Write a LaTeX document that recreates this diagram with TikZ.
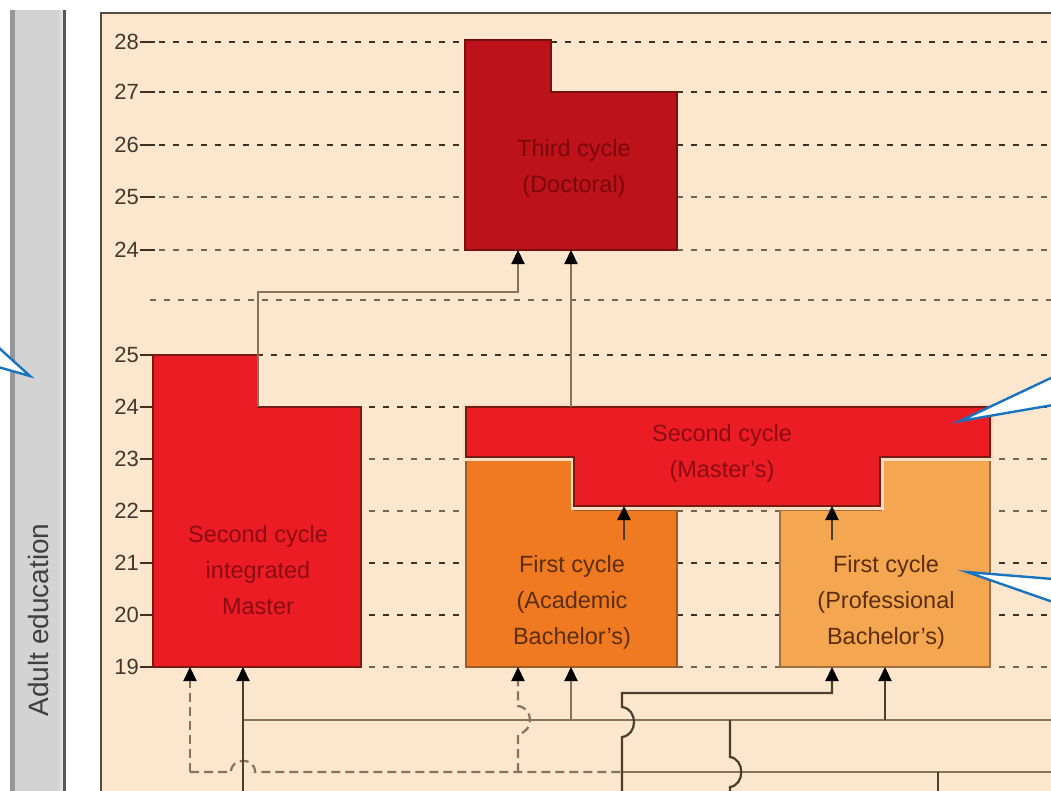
\documentclass[tikz,border=0pt]{standalone}
\usepackage{fontspec}
\setmainfont{Liberation Sans}
\usetikzlibrary{arrows.meta}
\definecolor{panel}{RGB}{252,231,206}
\definecolor{panelborder}{RGB}{85,75,65}
\definecolor{barfill}{RGB}{211,211,211}
\definecolor{bardark}{RGB}{150,150,150}
\definecolor{gridc}{RGB}{62,48,36}
\definecolor{gridl}{RGB}{115,100,85}
\definecolor{labelc}{RGB}{66,56,46}
\definecolor{thirdfill}{RGB}{190,18,26}
\definecolor{thirdborder}{RGB}{120,16,18}
\definecolor{thirdtext}{RGB}{122,8,12}
\definecolor{redfill}{RGB}{236,28,36}
\definecolor{redborder}{RGB}{118,26,18}
\definecolor{redtext}{RGB}{140,12,20}
\definecolor{acfill}{RGB}{240,122,34}
\definecolor{acborder}{RGB}{155,92,42}
\definecolor{prfill}{RGB}{244,166,80}
\definecolor{prborder}{RGB}{160,112,62}
\definecolor{orangetext}{RGB}{92,46,14}
\definecolor{halo}{RGB}{245,222,196}
\definecolor{conn}{RGB}{135,115,92}
\definecolor{conndark}{RGB}{78,60,44}
\definecolor{calloutblue}{RGB}{24,116,192}
\tikzset{
  gridline/.style={draw=gridc, line width=2pt, dash pattern=on 6pt off 8pt},
  gridlight/.style={draw=gridl, line width=2pt, dash pattern=on 6pt off 8pt},
  tickline/.style={draw=gridc, line width=2pt},
  axislabel/.style={anchor=east, text=labelc, font=\fontsize{22}{22}\selectfont, inner sep=0pt},
  boxtext/.style={align=center, font=\fontsize{23.5}{36}\selectfont, inner sep=0pt},
  connline/.style={draw=conn, line width=2.2pt},
  conndk/.style={draw=conndark, line width=2.2pt},
  conndash/.style={draw=conn, line width=2.2pt, dash pattern=on 9pt off 5pt},
  arr/.style={-{Triangle[width=13pt,length=14pt,color=black]}},
  calloutline/.style={draw=calloutblue, line width=2.4pt, line join=miter}
}
\begin{document}
\begin{tikzpicture}[x=1pt,y=-1pt]
\useasboundingbox (0,0) rectangle (1051,790);
\clip (0,0) rectangle (1051,790);
\fill[white] (0,0) rectangle (1051,790);

% left bar
\fill[barfill] (10,10) rectangle (64,795);
\fill[bardark] (10,10) rectangle (15,795);
\fill[black!12] (60,10) rectangle (63,795);
\fill[black!65] (63,10) rectangle (66,795);
\node[rotate=90, text=black!75, font=\fontsize{28}{28}\selectfont, inner sep=0pt] (adult) at (38,620) {Adult education};

% panel
\fill[panel] (100,12) rectangle (1060,800);
\draw[panelborder, line width=2.5pt] (101,800) -- (101,13) -- (1060,13);

% grid rows
\foreach \y/\lab/\st in {42/28/gridline, 92/27/gridline, 145/26/gridline, 197/25/gridlight, 250/24/gridlight, 355/25/gridline, 407/24/gridline, 459/23/gridlight, 511/22/gridlight, 563/21/gridline, 615/20/gridline, 667/19/gridlight}{
  \node[axislabel] (lab\y) at (139,\y) {\lab};
  \draw[tickline] (lab\y.east) ++(1,0) -- ++(15,0) coordinate (t\y);
  \draw[\st] (t\y) ++(4,0) -- (1051,\y);
}
\coordinate (g300a) at (150,300);
\coordinate (g300b) at (1051,300);
\draw[gridlight] (g300a) -- (g300b);

% Third cycle
\filldraw[fill=thirdfill, draw=thirdborder, line width=2.5pt, line join=miter]
  (465,40) -- (551,40) -- (551,92) -- (677,92) -- (677,250) -- (465,250) -- cycle;
\node[boxtext, text=thirdtext] (third) at (574,168) {Third cycle\\(Doctoral)};

% Second cycle integrated Master
\filldraw[fill=redfill, draw=redborder, line width=2.5pt, line join=miter]
  (153,355) -- (258,355) -- (258,407) -- (361,407) -- (361,667) -- (153,667) -- cycle;
\node[boxtext, text=redtext] (integ) at (258,570) {Second cycle\\integrated\\Master};

% First cycle academic
\filldraw[fill=acfill, draw=acborder, line width=2.5pt, line join=miter]
  (466,459) -- (575,459) -- (575,510) -- (677,510) -- (677,667) -- (466,667) -- cycle;
\node[boxtext, text=orangetext] (acad) at (572,602) {First cycle\\(Academic\\Bachelor's)};

% First cycle professional
\filldraw[fill=prfill, draw=prborder, line width=2.5pt, line join=miter]
  (780,510) -- (881,510) -- (881,459) -- (990,459) -- (990,667) -- (780,667) -- cycle;
\node[boxtext, text=orangetext] (prof) at (886,602) {First cycle\\(Professional\\Bachelor's)};

% Second cycle Master's
\filldraw[fill=redfill, draw=redborder, line width=2.5pt, line join=miter,
  preaction={draw=halo, line width=7pt}]
  (466,407) -- (990,407) -- (990,457) -- (880,457) -- (880,506) -- (574,506) -- (574,457) -- (466,457) -- cycle;
\node[boxtext, text=redtext] (masters) at (722,453) {Second cycle\\(Master's)};

% connector coordinates
\coordinate (imtop) at (258,407);
\coordinate (j1) at (518,292);
\coordinate (tcin1) at (518,250);
\coordinate (mstop) at (571,407);
\coordinate (tcin2) at (571,250);
\coordinate (acout) at (624,540);
\coordinate (msin1) at (624,506);
\coordinate (prout) at (832,540);
\coordinate (msin2) at (832,506);
\coordinate (imin1) at (190,667);
\coordinate (imin2) at (243,667);
\coordinate (acin1) at (518,667);
\coordinate (acin2) at (571,667);
\coordinate (prin1) at (832,667);
\coordinate (prin2) at (885,667);
\coordinate (d190) at (190,772);
\coordinate (s243) at (243,795);
\coordinate (h720l) at (243,720);
\coordinate (h720r) at (1051,720);
\coordinate (d622) at (622,772);
\coordinate (s622) at (622,795);
\coordinate (h693) at (622,693);
\coordinate (h772r) at (1051,772);
\coordinate (d518) at (518,772);
\coordinate (v730t) at (730,720);
\coordinate (v730b) at (730,795);
\coordinate (v938t) at (938,772);
\coordinate (v938b) at (938,795);

% connectors to Third cycle
\draw[connline, arr] (imtop) -- (imtop |- j1) -- (j1) -- (tcin1);
\draw[connline, arr] (mstop) -- (tcin2);
% connectors to Master's
\draw[conndk, arr] (acout) -- (msin1);
\draw[conndk, arr] (prout) -- (msin2);

% bottom network
\draw[connline] (h720l) -- (h720r);
\draw[connline] (d622) -- (h772r);
\draw[conndash] (d190) -- (231,772) .. controls (231,757) and (255,757) .. (255,772) -- (d622);
\draw[conndash, arr] (d190) -- (imin1);
\draw[conndk, arr] (s243) -- (imin2);
\draw[conndash, arr] (d518) -- (518,734) .. controls (534,732) and (534,708) .. (518,706) -- (acin1);
\draw[connline, arr] (acin2 |- h720l) -- (acin2);
\draw[conndk, arr] (s622) -- (622,737) .. controls (638,735) and (638,709) .. (622,707) -- (h693) -- (prin1 |- h693) -- (prin1);
\draw[conndk, arr] (prin2 |- h720l) -- (prin2);
\draw[conndk] (v730t) -- (730,757) .. controls (745,759) and (745,785) .. (730,787) -- (v730b);
\draw[conndk] (v938t) -- (v938b);

% callouts
\coordinate (cl1) at (30,376);
\fill[white] (-2,348) -- (cl1) -- (-2,367) -- cycle;
\draw[calloutline] (-2,347) -- (cl1) -- (-2,367);
\coordinate (cr1) at (960,421);
\fill[white] (1053,378) -- (cr1) -- (1053,405) -- cycle;
\draw[calloutline] (1053,377) -- (cr1) -- (1053,405);
\coordinate (cr2) at (967,572);
\fill[white] (1053,579) -- (cr2) -- (1053,602) -- cycle;
\draw[calloutline] (1053,579) -- (cr2) -- (1053,602);
\end{tikzpicture}
\end{document}
